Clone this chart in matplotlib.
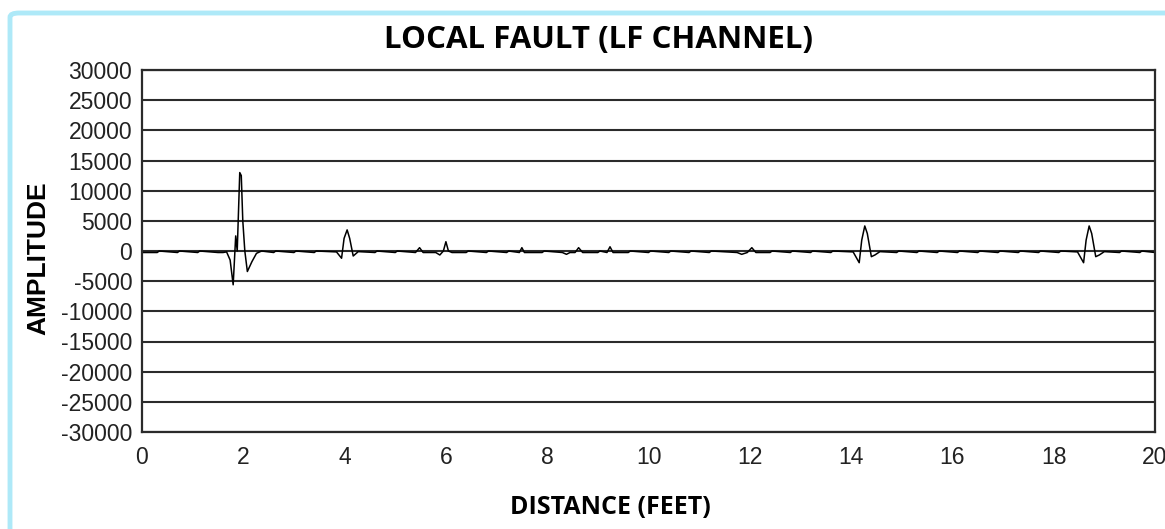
import matplotlib
matplotlib.use("Agg")
import matplotlib.pyplot as plt
from matplotlib.patches import FancyBboxPatch

# trace (distance in feet, amplitude)
distance = [0.0, 0.30, 0.34, 0.70, 0.74, 1.10, 1.14, 1.50, 1.60, 1.67, 1.74, 1.80,
            1.85, 1.88, 1.93, 1.96, 1.99, 2.03, 2.08, 2.17, 2.26, 2.36, 2.60, 2.64,
            3.00, 3.04, 3.40, 3.44, 3.84, 3.94, 3.99, 4.05, 4.10, 4.17, 4.27, 4.60,
            4.64, 5.00, 5.04, 5.40, 5.48, 5.55, 5.80, 5.88, 5.95, 6.00, 6.05, 6.12,
            6.40, 6.44, 6.80, 6.84, 7.20, 7.24, 7.45, 7.50, 7.55, 7.90, 7.94, 8.30,
            8.38, 8.45, 8.55, 8.62, 8.70, 9.00, 9.04, 9.18, 9.24, 9.30, 9.60, 9.64,
            10.00, 10.04, 10.40, 10.44, 10.80, 10.84, 11.20, 11.24, 11.75, 11.84,
            11.95, 12.04, 12.12, 12.40, 12.44, 12.80, 12.84, 13.20, 13.24, 13.60,
            13.64, 14.04, 14.16, 14.21, 14.27, 14.32, 14.40, 14.47, 14.57, 14.90,
            14.94, 15.30, 15.34, 15.70, 15.74, 16.10, 16.14, 16.50, 16.54, 16.90,
            16.94, 17.30, 17.34, 17.70, 17.74, 18.10, 18.14, 18.47, 18.59, 18.64,
            18.70, 18.75, 18.83, 18.90, 19.00, 19.30, 19.34, 19.70, 19.74, 20.0]
amplitude = [-250, -250, 0, -250, 0, -250, 0, -250, -250, -150, -1500, -5600,
             2500, 0, 13000, 12500, 5000, 0, -3400, -1770, -390, 0, -250, 0,
             -250, 0, -250, 0, -150, -1200, 2100, 3500, 2100, -830, -100, -250,
             0, -250, 0, -250, 550, -250, -250, -660, 0, 1540, 0, -250,
             -250, 0, -250, 0, -250, 0, -250, 550, -250, -250, 0, -250,
             -550, -250, -250, 550, -250, -250, 0, -250, 700, -250, -250, 0,
             -250, 0, -250, 0, -250, 0, -250, 0, -250, -550,
             -250, 550, -250, -250, 0, -250, 0, -250, 0, -250,
             0, -150, -1940, 1800, 4150, 2900, -940, -660, -100, -250,
             0, -250, 0, -250, 0, -250, 0, -250, 0, -250,
             0, -250, 0, -250, 0, -250, 0, -150, -1940, 1800,
             4150, 2900, -940, -660, -100, -250, 0, -250, 0, -250]

x_ticks = [0, 2, 4, 6, 8, 10, 12, 14, 16, 18, 20]
y_ticks = list(range(-30000, 30001, 5000))


def main():
    plt.rcParams['axes.unicode_minus'] = False
    fig = plt.figure(figsize=(11.65, 5.29), dpi=100)
    ax = fig.add_axes([142 / 1165, 1 - 432 / 529, 1013 / 1165, 362 / 529])

    for y in y_ticks:
        ax.axhline(y, color='#2b2b2b', linewidth=1.5, zorder=1)
    ax.plot(distance, amplitude, color='black', linewidth=1.1, zorder=2)

    ax.set_xlim(0, 20)
    ax.set_ylim(-30000, 30000)
    ax.set_xticks(x_ticks)
    ax.set_yticks(y_ticks)
    ax.tick_params(length=0, labelsize=16.5, colors='#222222')
    ax.tick_params(axis='y', pad=7)
    ax.tick_params(axis='x', pad=10)
    for lbl in ax.get_xticklabels() + ax.get_yticklabels():
        lbl.set_family('Liberation Sans')
    for s in ax.spines.values():
        s.set_linewidth(1.6)
        s.set_color('#2b2b2b')

    fig.text(598 / 1165, 1 - 40 / 529, 'LOCAL FAULT (LF CHANNEL)',
             ha='center', va='center', fontsize=22.5, fontweight='bold',
             family='Open Sans')
    fig.text(610 / 1165, 1 - 507 / 529, 'DISTANCE (FEET)',
             ha='center', va='center', fontsize=18, fontweight='bold',
             family='Open Sans')
    fig.text(38 / 1165, 1 - 258 / 529, 'AMPLITUDE', rotation=90,
             ha='center', va='center', fontsize=19, fontweight='bold',
             family='Liberation Sans')

    # light blue frame around the picture
    frame = FancyBboxPatch((10 / 1165, -0.2), 1.2, 1.2 - 13 / 529,
                           boxstyle='round,pad=0,rounding_size=0.008',
                           transform=fig.transFigure, fill=False,
                           edgecolor='#aee9f8', linewidth=3.5)
    fig.add_artist(frame)

    fig.savefig('out.png', dpi=100)


if __name__ == "__main__":
    main()
